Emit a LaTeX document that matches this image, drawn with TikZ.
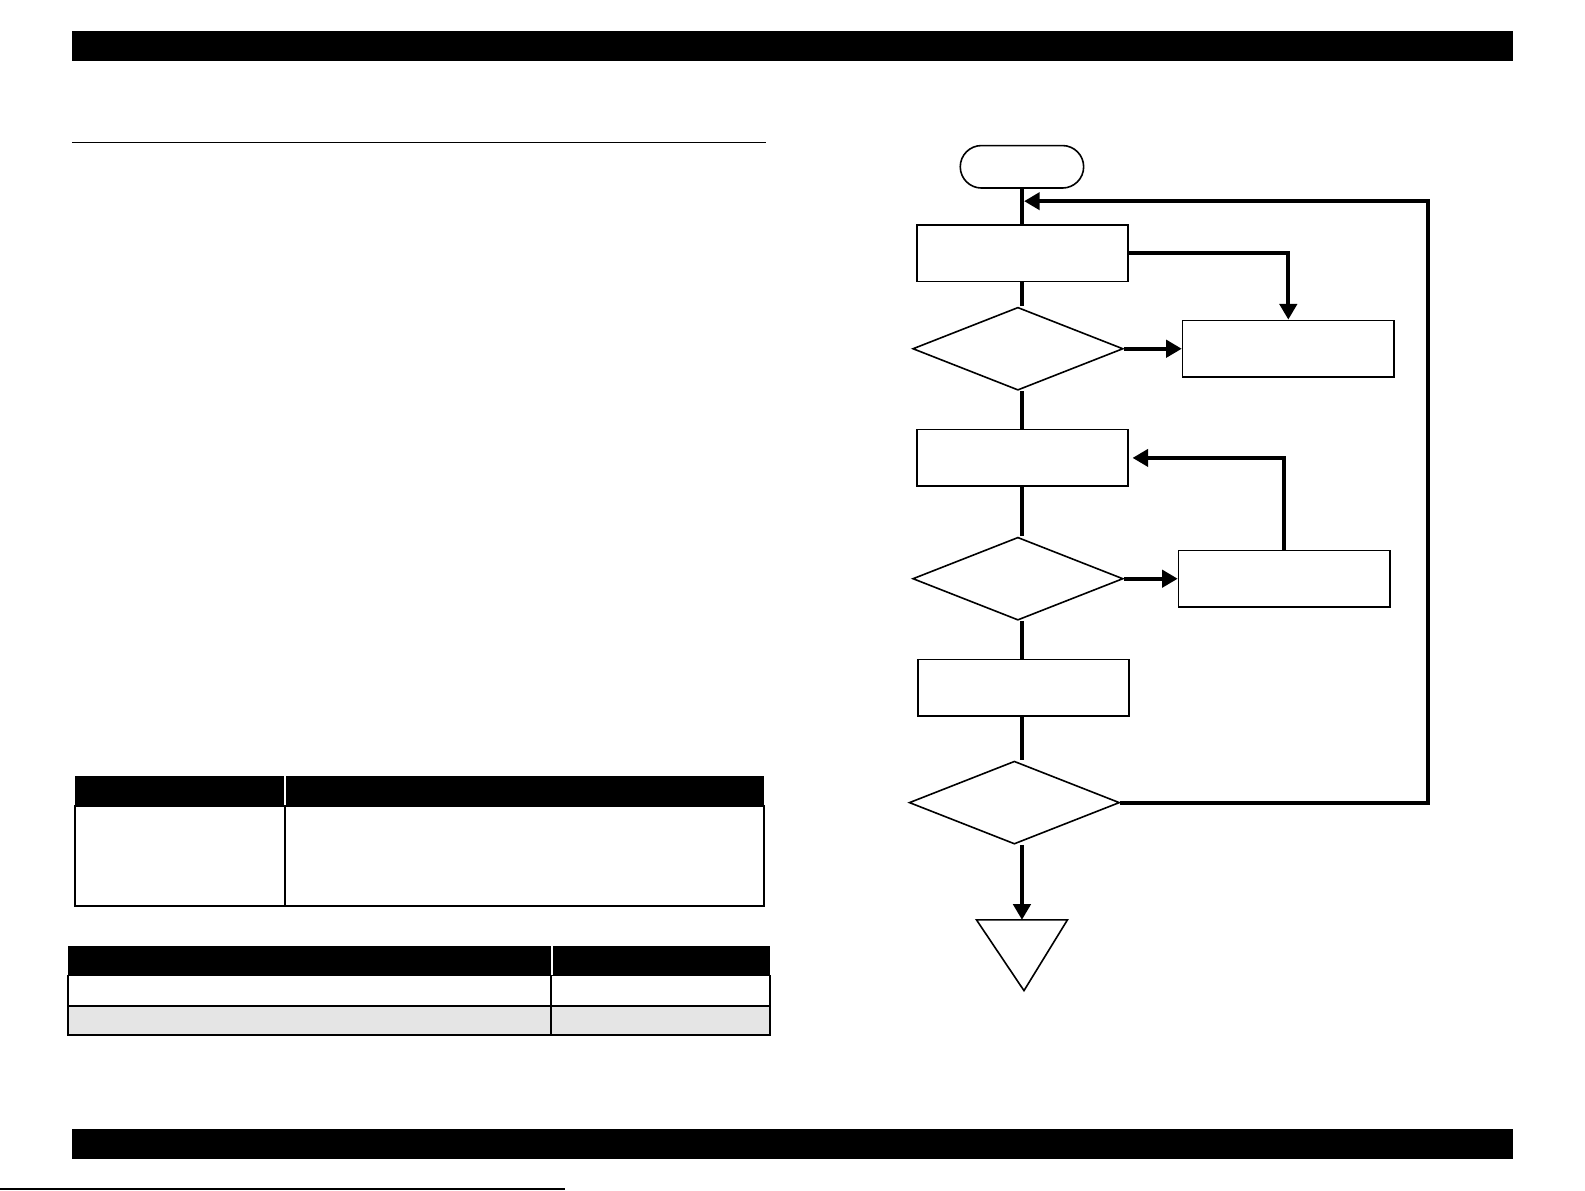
\documentclass[tikz,border=0pt]{standalone}
\usepackage{tikz}
\usetikzlibrary{shapes}
\usetikzlibrary{arrows.meta}

\begin{document}
\begin{tikzpicture}[x=0.01cm,y=-0.01cm,
  stepbox/.style={draw,rectangle,minimum width=2.09cm,minimum height=0.56cm,inner sep=0pt,line width=0.45pt},
  testbox/.style={draw,diamond,minimum width=2.08cm,minimum height=0.82cm,inner sep=0pt,line width=0.45pt},
  termbox/.style={draw,rectangle,rounded corners=0.21cm,minimum width=1.22cm,minimum height=0.42cm,inner sep=0pt,line width=0.45pt},
  flow/.style={line width=1.15pt},
  flowarr/.style={flow,-{Triangle[length=4.4pt,width=4.8pt]}},
  thinline/.style={line width=0.5pt}]
\useasboundingbox (0,0) rectangle (1568,1178);
% page bars and rules
\fill (71,31) rectangle (1497,60);
\fill (71,1117) rectangle (1497,1147);
\draw[thinline] (71,141) -- (758,141);
\draw[thinline] (0,1176) -- (559,1176);
% first table
\fill (74,768) rectangle (756,797);
\draw[white, line width=0.7pt] (282,768) -- (282,797);
\draw[thinline] (74,797) rectangle (756,896);
\draw[thinline] (282,797) -- (282,896);
% second table
\fill[black!10] (67,995) rectangle (762,1024);
\fill (67,936) rectangle (762,965);
\draw[white, line width=0.7pt] (546,936) -- (546,965);
\draw[thinline] (67,965) rectangle (762,1024);
\draw[thinline] (67,995) -- (762,995);
\draw[thinline] (545,965) -- (545,1024);
% flow chart
\node[termbox] (start) at (1011,165) {};
\node[stepbox] (box1) at (1011.5,250.5) {};
\node[testbox] (dia1) at (1007,345) {};
\node[stepbox] (box2) at (1274.5,345) {};
\node[stepbox] (box3) at (1011.5,453) {};
\node[testbox] (dia2) at (1007,572.5) {};
\node[stepbox] (box4) at (1270.5,572.5) {};
\node[stepbox] (box5) at (1012.5,680.5) {};
\node[testbox] (dia3) at (1003.5,794) {};
\coordinate (loopin) at (1011,199);
\coordinate (loopx) at (1413,794);
\coordinate (tri) at (1011,910);
\draw[line width=0.45pt] (966,910) -- (1056,910) -- (1013,980) -- cycle;
\draw[flow] (start.south -| loopin) -- (box1.north -| loopin);
\draw[flow] (box1.south -| loopin) -- (dia1.north -| loopin);
\draw[flow] (dia1.south -| loopin) -- (box3.north -| loopin);
\draw[flow] (box3.south -| loopin) -- (dia2.north -| loopin);
\draw[flow] (dia2.south -| loopin) -- (box5.north -| loopin);
\draw[flow] (box5.south -| loopin) -- (dia3.north -| loopin);
\draw[flowarr] (box1.east) -| (box2.north);
\draw[flowarr] (dia1) -- (box2);
\draw[flowarr] (dia2) -- (box4);
\draw[flowarr, shorten >=1pt] (box4.north) |- (box3.east);
\draw[flowarr, shorten >=0.6pt] (dia3.east) -- (loopx) |- (loopin);
\draw[flowarr] (dia3.south -| loopin) -- (tri);
\end{tikzpicture}
\end{document}
